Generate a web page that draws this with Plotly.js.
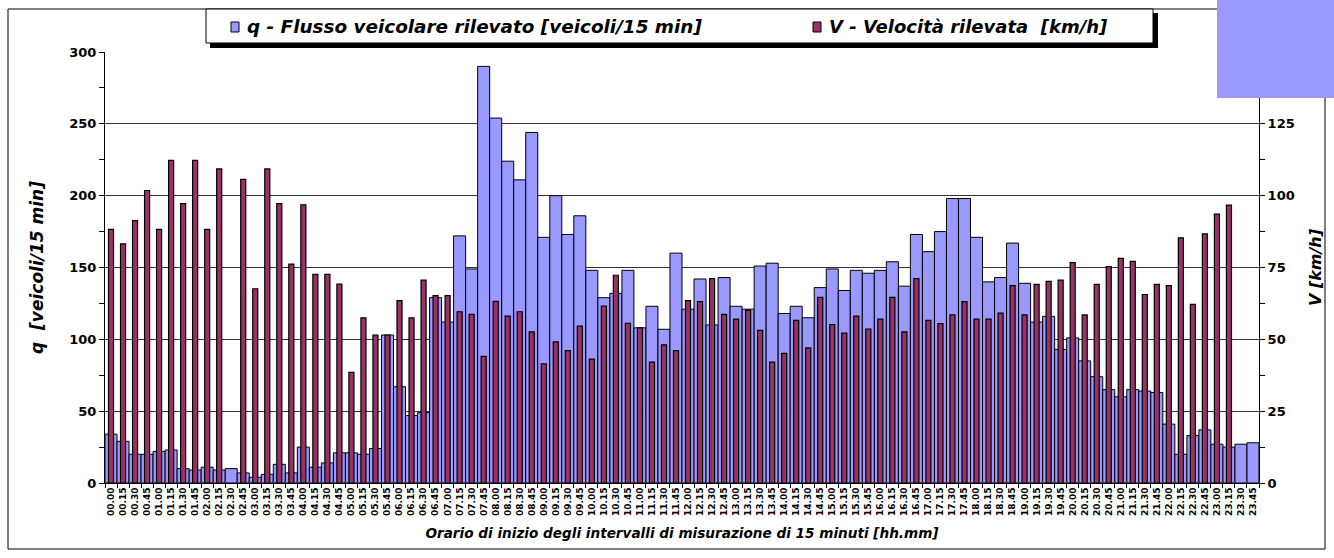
<!DOCTYPE html>
<html><head><meta charset="utf-8">
<script src="https://cdn.plot.ly/plotly-3.0.1.min.js"></script>
<style>html,body{margin:0;padding:0;background:#fff}#chart{width:1334px;height:558px}</style>
</head><body><div id="chart"></div>
<script>
const timeLabels = [
 "00.00","00.15","00.30","00.45","01.00","01.15","01.30","01.45","02.00","02.15","02.30","02.45",
 "03.00","03.15","03.30","03.45","04.00","04.15","04.30","04.45","05.00","05.15","05.30","05.45",
 "06.00","06.15","06.30","06.45","07.00","07.15","07.30","07.45","08.00","08.15","08.30","08.45",
 "09.00","09.15","09.30","09.45","10.00","10.15","10.30","10.45","11.00","11.15","11.30","11.45",
 "12.00","12.15","12.30","12.45","13.00","13.15","13.30","13.45","14.00","14.15","14.30","14.45",
 "15.00","15.15","15.30","15.45","16.00","16.15","16.30","16.45","17.00","17.15","17.30","17.45",
 "18.00","18.15","18.30","18.45","19.00","19.15","19.30","19.45","20.00","20.15","20.30","20.45",
 "21.00","21.15","21.30","21.45","22.00","22.15","22.30","22.45","23.00","23.15","23.30","23.45"
];
const flowQ = [
 34,29,20,20,22,23,10,9,11,9,10,7,4,6,13,7,
 25,11,14,21,21,20,24,103,67,47,49,129,112,172,149,290,
 254,224,211,244,171,200,173,186,148,129,132,148,108,123,107,160,
 121,142,110,143,123,121,151,153,118,123,115,136,149,134,148,146,
 148,154,137,173,161,175,198,198,171,140,143,167,139,112,116,93,
 101,85,74,65,60,65,64,63,41,20,33,37,27,25,27,28
];
const speedV = [
 88.3,83.2,91.3,101.8,88.3,112.3,97.2,112.3,88.3,109.3,null,105.7,67.6,109.3,97.2,76.2,
 96.8,72.6,72.6,69.2,38.5,57.5,51.5,51.5,63.5,57.5,70.6,65.2,65.2,59.6,58.7,44.1,
 63.2,58.1,59.6,52.6,41.5,49.1,46.1,54.6,43.1,61.6,72.3,55.6,54.0,42.1,48.1,46.1,
 63.5,63.1,71.1,58.7,57.0,60.2,53.1,42.1,45.1,56.6,47.0,64.6,55.1,52.2,58.1,53.6,
 57.0,64.6,52.6,71.1,56.6,55.5,58.5,63.1,57.0,57.0,59.1,68.7,58.5,69.1,70.2,70.6,
 76.7,58.5,69.1,75.3,78.2,77.1,65.6,69.1,68.7,85.3,62.2,86.7,93.6,96.7,null,null
];
const seriesNames = [
 "q - Flusso veicolare rilevato [veicoli/15 min]",
 "V - Velocità rilevata  [km/h]"
];

const W = 1334, H = 558;
const M = {l:105, r:75, t:52, b:75};
const PW = W - M.l - M.r, PH = H - M.t - M.b;
const px = x => (x - M.l) / PW;
const py = y => (H - M.b - y) / PH;
const FONT = "Liberation Sans, Arial, sans-serif";
const WIDE = "DejaVu Sans, Verdana, sans-serif";
const BLUE = "#9999FF", MAROON = "#993366";

const traces = [
  {type:"bar", name:seriesNames[0], x:timeLabels, y:flowQ, yaxis:"y",
   width:1.0, marker:{color:BLUE, line:{color:"#000", width:1}}, showlegend:false,
   hovertemplate:"%{x}: %{y}<extra></extra>"},
  {type:"bar", name:seriesNames[1], x:timeLabels, y:speedV, yaxis:"y2",
   width:0.42, marker:{color:MAROON, line:{color:"#000", width:1.2}}, showlegend:false,
   hovertemplate:"%{x}: %{y}<extra></extra>"}
];

const rect = (x0,y0,x1,y1,opts) => Object.assign({type:"rect", xref:"paper", yref:"paper",
  x0:px(x0), x1:px(x1), y0:py(y1), y1:py(y0)}, opts);

const layout = {
  width:W, height:H, margin:M, paper_bgcolor:"#fff", plot_bgcolor:"#fff",
  barmode:"overlay", bargap:0,
  font:{family:FONT, color:"#000"},
  xaxis:{type:"category", tickmode:"linear", dtick:1, tickson:"boundaries",
    ticks:"outside", ticklen:4, tickcolor:"#000", tickangle:-90,
    tickfont:{family:WIDE, size:9, weight:"bold", color:"#000"},
    showline:true, linecolor:"#000", linewidth:1, showgrid:false, zeroline:false,
    title:{text:"<b><i>Orario di inizio degli intervalli di misurazione di 15 minuti [hh.mm]</i></b>",
      font:{family:WIDE, size:13.6, color:"#000"}, standoff:13}},
  yaxis:{range:[0,300], dtick:50, ticks:"outside", ticklen:5, tickcolor:"#000",
    tickfont:{family:WIDE, size:13, weight:"bold", color:"#000"},
    showline:true, linecolor:"#000", linewidth:1,
    showgrid:true, gridcolor:"#333", gridwidth:1, zeroline:false,
    minor:{dtick:25, ticks:"outside", ticklen:5, tickcolor:"#000", showgrid:false},
    title:{text:"<b><i>q  [veicoli/15 min]</i></b>", font:{family:WIDE, size:17, color:"#000"}, standoff:21}},
  yaxis2:{range:[0,150], dtick:25, overlaying:"y", side:"right", ticks:"outside", ticklen:5, tickcolor:"#000",
    tickfont:{family:WIDE, size:13, weight:"bold", color:"#000"},
    showline:true, linecolor:"#000", linewidth:1, showgrid:false, zeroline:false,
    minor:{dtick:12.5, ticks:"outside", ticklen:5, tickcolor:"#000", showgrid:false},
    title:{text:"<b><i>V [km/h]</i></b>", font:{family:WIDE, size:16, color:"#000"}, standoff:16}},
  shapes:[
    rect(8,9,1325,549,{line:{color:"#000", width:1}, fillcolor:"rgba(0,0,0,0)", layer:"below"}),
    rect(210,13,1158,48,{line:{width:0}, fillcolor:"#000", layer:"above"}),
    rect(206,9,1153,43,{line:{color:"#000", width:1}, fillcolor:"#fff", layer:"above"}),
    rect(231,22,239,32,{line:{color:"#000", width:1}, fillcolor:BLUE, layer:"above"}),
    rect(813,22,821,32,{line:{color:"#000", width:1}, fillcolor:MAROON, layer:"above"}),
    rect(1217,0,1334,98,{line:{width:0}, fillcolor:BLUE, layer:"above"})
  ],
  annotations:[
    {xref:"paper", yref:"paper", x:px(245), y:py(27), xanchor:"left", yanchor:"middle", showarrow:false,
     text:"<b><i>"+seriesNames[0]+"</i></b>", font:{family:WIDE, size:18.4, color:"#000"}},
    {xref:"paper", yref:"paper", x:px(827), y:py(27), xanchor:"left", yanchor:"middle", showarrow:false,
     text:"<b><i>"+seriesNames[1]+"</i></b>", font:{family:WIDE, size:18, color:"#000"}}
  ]
};

Plotly.newPlot("chart", traces, layout, {staticPlot:true, displayModeBar:false});
</script></body></html>
